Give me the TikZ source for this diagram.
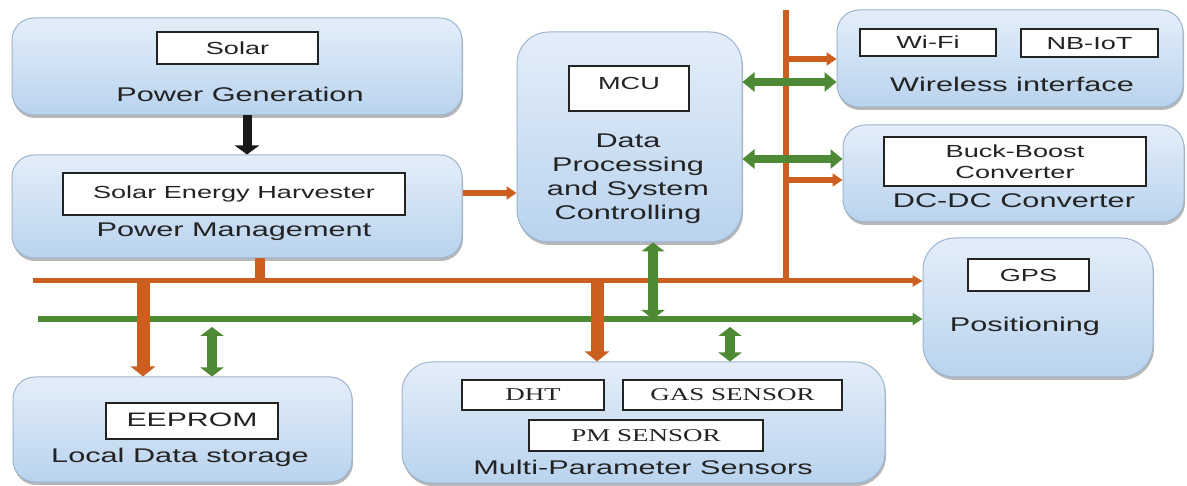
\documentclass[tikz,border=0pt]{standalone}
\usepackage{fontspec}
\usetikzlibrary{arrows.meta,shadows,calc}
\newfontfamily\labfont[FakeStretch=1.55]{Liberation Sans}
\newfontfamily\serfont[FakeStretch=1.5]{Liberation Serif}
\definecolor{busorange}{HTML}{CC5E20}
\definecolor{busgreen}{HTML}{4E8A36}
\definecolor{boxtop}{HTML}{E4EEF9}
\definecolor{boxbot}{HTML}{B9D3EE}
\definecolor{boxline}{HTML}{9DB5CE}
\definecolor{inkgray}{HTML}{232323}

\tikzset{
  block/.style={rectangle, rounded corners=22pt, draw=boxline, line width=1pt,
    top color=boxtop, bottom color=boxbot, inner sep=0pt,
    drop shadow={shadow xshift=1pt, shadow yshift=-3pt, opacity=0.4, fill=black!70}},
  part/.style={rectangle, draw=inkgray, line width=1.3pt, fill=white, inner sep=0pt,
    text=inkgray, font=\labfont\fontsize{17.5}{21}\selectfont,
    text height=12.5pt, text depth=0pt, align=center},
  serpart/.style={part, font=\serfont\fontsize{18}{21}\selectfont, text height=11.9pt},
  caption/.style={inner sep=0pt, anchor=base, text=inkgray,
    font=\labfont\fontsize{19.8}{24}\selectfont},
  thinor/.style={draw=busorange, line width=5.5pt, -{Triangle[length=10pt,width=13pt]}},
  fator/.style={draw=busorange, line width=13pt, -{Triangle[length=10pt,width=24pt]}},
  stub/.style={draw=busorange, line width=10pt},
  orbus/.style={draw=busorange, line width=5pt, -{Triangle[length=10pt,width=11pt]}},
  grbus/.style={draw=busgreen, line width=5.5pt, -{Triangle[length=10pt,width=12pt]}},
  vbus/.style={draw=busorange, line width=6pt},
  grdbl/.style={draw=busgreen, line width=8pt,
    {Triangle[length=12pt,width=19pt]}-{Triangle[length=12pt,width=19pt]}},
  grdblv/.style={draw=busgreen, line width=10pt,
    {Triangle[length=9pt,width=23pt]}-{Triangle[length=9pt,width=23pt]}},
  blackarrow/.style={draw=black!90, line width=9pt, -{Triangle[length=9pt,width=24pt]}},
}

\begin{document}
\begin{tikzpicture}[x=1pt, y=-1pt]
\useasboundingbox (0,0) rectangle (1187,486);
\fill[white] (0,0) rectangle (1187,486);

% ---- function blocks ----
\node[block, minimum width=450pt, minimum height=97pt] (pg) at (237,66.5) {};
\node[part, minimum width=161pt, minimum height=32pt] (solar) at (237.5,48) {Solar};
\node[caption] (pgcap) at (240,102) {Power Generation};

\node[block, minimum width=450pt, minimum height=103pt] (pm) at (237,206.5) {};
\node[part, minimum width=342pt, minimum height=42pt, text depth=3pt] (seh) at (234,194) {Solar Energy Harvester};
\node[caption] (pmcap) at (234,237) {Power Management};

\node[block, rounded corners=32pt, minimum width=225pt, minimum height=210pt] (dp) at (629.5,137) {};
\node[part, minimum width=120pt, minimum height=45pt, text depth=9.5pt] (mcu) at (629,88.5) {MCU};
\node[caption, anchor=center, align=center] (dpcap) at (628,178.5) {Data\\Processing\\and System\\Controlling};

\node[block, minimum width=346pt, minimum height=97pt] (wi) at (1010,58.5) {};
\node[part, minimum width=136pt, minimum height=27pt, text depth=-7pt] (wifi) at (928,42.5) {Wi-Fi};
\node[part, minimum width=137pt, minimum height=28pt, text depth=-7pt] (nbiot) at (1089.5,43) {NB-IoT};
\node[caption] (wicap) at (1012,92) {Wireless interface};

\node[block, minimum width=341pt, minimum height=97pt] (dc) at (1013.5,173.5) {};
\node[part, minimum width=262pt, minimum height=49pt, text height={}, text depth={},
      font=\labfont\fontsize{17.5}{21}\selectfont] (bb) at (1015,161.5) {Buck-Boost\\Converter};
\node[caption] (dccap) at (1014,208) {DC-DC Converter};

\node[block, rounded corners=32pt, minimum width=230pt, minimum height=139pt] (gps) at (1038,307.5) {};
\node[part, minimum width=121pt, minimum height=32pt] (gpsin) at (1028.5,275) {GPS};
\node[caption] (gpscap) at (1025,332) {Positioning};

\node[block, minimum width=339pt, minimum height=105pt] (lds) at (182.5,429.5) {};
\node[part, minimum width=172pt, minimum height=36pt, font=\labfont\fontsize{19.5}{22}\selectfont, text height=14pt, text depth=3pt] (eeprom) at (192,421) {EEPROM};
\node[caption] (ldscap) at (180,462) {Local Data storage};

\node[block, rounded corners=30pt, minimum width=483pt, minimum height=121pt] (mps) at (643.5,422.5) {};
\node[serpart, minimum width=142pt, minimum height=30pt] (dht) at (533,395) {DHT};
\node[serpart, minimum width=219pt, minimum height=30pt] (gas) at (732.5,395) {GAS SENSOR};
\node[serpart, minimum width=234pt, minimum height=31pt] (pms) at (646,435.5) {PM SENSOR};
\node[caption] (mpscap) at (643,475) {Multi-Parameter Sensors};

% ---- bus reference points ----
\coordinate (obw) at (33,281);   % west end of the power bus
\coordinate (gbw) at (38,319);   % west end of the data bus
\coordinate (gbb) at (0,327);    % just below the data bus
\coordinate (vbt) at (786,10);   % top of the vertical power riser
\coordinate (r1) at (0,59);
\coordinate (r2) at (0,82);
\coordinate (r3) at (0,159);
\coordinate (r4) at (0,180);
\coordinate (r5) at (0,193);
\coordinate (c0) at (247,0);
\coordinate (c1) at (143,0);
\coordinate (c2) at (212,0);
\coordinate (c3) at (260,0);
\coordinate (c4) at (597,0);
\coordinate (c5) at (653,0);
\coordinate (c6) at (730,0);

% ---- buses ----
\draw[orbus] (obw) -- (obw -| gps.west);
\draw[grbus] (gbw) -- (gbw -| gps.west);
\draw[vbus] (vbt) -- (vbt |- obw);

% ---- connectors ----
\draw[blackarrow] (c0 |- pg.south) -- (c0 |- pm.north);
\draw[thinor] (pm.east |- r5) -- (dp.west |- r5);
\draw[stub] (c3 |- pm.south) -- (c3 |- obw);

\draw[thinor] (vbt |- r1) -- (wi.west |- r1);
\draw[thinor] (vbt |- r4) -- (dc.west |- r4);
\draw[grdbl] (dp.east |- r2) -- (wi.west |- r2);
\draw[grdbl] (dp.east |- r3) -- (dc.west |- r3);

\draw[fator] (c1 |- obw) -- (c1 |- lds.north);
\draw[grdblv] (c2 |- gbb) -- (c2 |- lds.north);
\draw[fator] (c4 |- obw) -- (c4 |- mps.north);
\draw[grdblv] (c5 |- dp.south) -- (c5 |- gbw);
\draw[grdblv] (c6 |- gbb) -- (c6 |- mps.north);
\end{tikzpicture}
\end{document}
